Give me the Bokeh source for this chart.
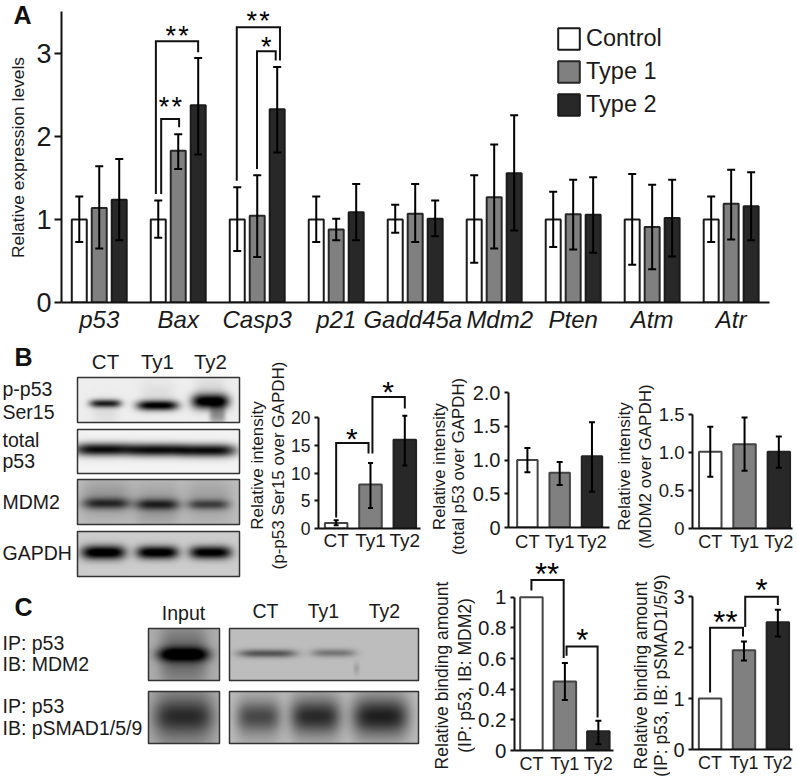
import math
import numpy as np
from bokeh.plotting import figure
from bokeh.models import (ColumnDataSource, Whisker, TeeHead, Legend, LegendItem,
                          FixedTicker, Range1d, LinearColorMapper)
from bokeh.layouts import column, row
from bokeh.core.properties import value
from bokeh.embed import file_html
from bokeh.resources import INLINE

FONT = "Liberation Sans"
# ---------------------------------------------------------------- data, panel A
genes = ["p53", "Bax", "Casp3", "p21", "Gadd45a", "Mdm2", "Pten", "Atm", "Atr"]
gene_label_pos = [0, 1, 2, 3, 3.97, 5.07, 6, 7, 8]
series_names = ["Control", "Type 1", "Type 2"]
control_val = [1.0, 1.0, 1.0, 1.0, 1.0, 1.0, 1.0, 1.0, 1.0]
control_up = [1.28, 1.23, 1.39, 1.28, 1.18, 1.535, 1.335, 1.55, 1.28]
control_low = [0.73, 0.78, 0.62, 0.73, 0.84, 0.48, 0.67, 0.455, 0.73]
type1_val = [1.14, 1.83, 1.045, 0.88, 1.07, 1.27, 1.065, 0.91, 1.19]
type1_up = [1.645, 2.03, 1.535, 1.01, 1.43, 1.905, 1.48, 1.42, 1.60]
type1_low = [0.65, 1.61, 0.55, 0.75, 0.73, 0.65, 0.64, 0.40, 0.76]
type2_val = [1.24, 2.38, 2.33, 1.09, 1.01, 1.56, 1.06, 1.02, 1.16]
type2_up = [1.73, 2.95, 2.84, 1.43, 1.23, 2.26, 1.51, 1.48, 1.57]
type2_low = [0.75, 1.785, 1.81, 0.75, 0.80, 0.87, 0.60, 0.555, 0.75]
a_yticks = [0, 1, 2, 3]
# significance brackets: left x, right x, top, left end, right end
a_br_left = [0.717, 0.784, 1.741, 1.997]
a_br_right = [1.252, 1.011, 2.288, 2.234]
a_br_top = [3.15, 2.215, 3.32, 3.03]
a_br_lend = [1.31, 1.31, 1.47, 1.61]
a_br_rend = [3.02, 2.115, 2.92, 2.92]
a_star_x = [0.986, 0.90, 2.01, 2.115]
a_star_y = [3.245, 2.40, 3.43, 3.12]
a_star_text = ["*\u200a*", "*\u200a*", "*\u200a*", "*"]
# ---------------------------------------------------------------- data, panels B and C
short_names = ["CT", "Ty1", "Ty2"]
ser15_val = [1.0, 7.93, 16.0]
ser15_up = [1.5, 11.8, 20.3]
ser15_low = [0.6, 3.7, 11.35]
total_val = [1.0, 0.81, 1.055]
total_up = [1.18, 0.97, 1.56]
total_low = [0.82, 0.63, 0.53]
mdm2_val = [1.01, 1.11, 1.01]
mdm2_up = [1.34, 1.46, 1.21]
mdm2_low = [0.68, 0.76, 0.80]
bind_mdm2_val = [1.0, 0.451, 0.126]
bind_mdm2_up = [1.0, 0.571, 0.194]
bind_mdm2_low = [1.0, 0.329, 0.041]
bind_smad_val = [1.0, 1.95, 2.5]
bind_smad_up = [1.0, 2.12, 2.745]
bind_smad_low = [1.0, 1.75, 2.22]

ser15_br = dict(left=[0.0, 1.057], right=[0.943, 2.0], top=[15.4, 23.7], lend=[2.0, 13.5], rend=[13.5, 21.6])
ser15_st = dict(x=[0.457, 1.514], y=[16.76, 25.2], text=["*", "*"])
bind_mdm2_br = dict(left=[0.0, 1.05], right=[0.964, 1.977], top=[1.113, 0.678], lend=[1.044, 0.619], rend=[0.604, 0.216])
bind_mdm2_st = dict(x=[0.467, 1.518], y=[1.174, 0.743], text=["**", "*"])
bind_smad_br = dict(left=[0.0, 1.037], right=[0.971, 2.0], top=[2.39, 3.0], lend=[1.12, 2.405], rend=[2.22, 2.84])
bind_smad_st = dict(x=[0.452, 1.519], y=[2.555, 3.18], text=["**", "*"])

WHITE, GREY, DARK = "#ffffff", "#808080", "#282828"
FILLS = [WHITE, GREY, DARK]
INK = "#111111"


def style_axes(p, xfs, yfs, yticks, ytop, overrides=None, ystand=4, xstand=3, tick=4):
    p.grid.visible = False
    p.outline_line_color = None
    ax = p.yaxis[0]
    ax.ticker = FixedTicker(ticks=yticks)
    ax.bounds = (0, ytop)
    ax.axis_line_width = 2
    ax.axis_line_color = INK
    ax.major_tick_line_width = 2
    ax.major_tick_line_color = INK
    ax.major_tick_out = tick
    ax.major_tick_in = 0
    ax.minor_tick_out = 0
    ax.minor_tick_in = 0
    ax.minor_tick_line_color = None
    ax.major_label_text_font = FONT
    ax.major_label_text_font_size = yfs
    ax.major_label_text_color = "#1a1a1a"
    ax.major_label_standoff = ystand
    if overrides:
        ax.major_label_overrides = overrides
    xa = p.xaxis[0]
    xa.axis_line_width = 2
    xa.axis_line_color = INK
    xa.major_tick_line_color = None
    xa.minor_tick_line_color = None
    xa.major_tick_out = 0
    xa.major_tick_in = 0
    xa.minor_tick_out = 0
    xa.minor_tick_in = 0
    xa.major_label_text_font = FONT
    xa.major_label_text_font_size = xfs
    xa.major_label_text_color = "#1a1a1a"
    xa.major_label_standoff = xstand


def brackets(p, left, right, top, lend, rend):
    xs = [[l, l, r, r] for l, r in zip(left, right)]
    ys = [[a, t, t, b] for a, t, b in zip(lend, top, rend)]
    p.multi_line(xs, ys, line_color=INK, line_width=2, line_join="miter")


def stars(p, x, y, text, fs):
    px = float(fs[:-2])
    p.text(x, y, text=text, text_font=value(FONT), text_font_size=fs, text_color="#000000",
           text_align="center", text_baseline="alphabetic", y_offset=0.11 * px)


def small_chart(w, h, fig_x, fig_y, frame, centers, bar_w, ppu, vals, ups, lows, yticks, overrides,
                xfs, yfs, head=6, br=None, st=None, star_fs="30px", tick=4, xstand=3):
    fl, fr, ft, fb = frame
    step = (centers[2] - centers[0]) / 2
    p = figure(width=w, height=h, output_backend="svg", toolbar_location=None, frame_align=False,
               x_range=Range1d((fl - centers[0]) / step, (fr - centers[0]) / step),
               y_range=Range1d(0, (fb - ft) / ppu),
               min_border_left=int(round(fl - fig_x)), min_border_right=int(round(fig_x + w - fr)),
               min_border_top=int(round(ft - fig_y)), min_border_bottom=int(round(fig_y + h - fb)))
    xs = [0, 1, 2]
    p.vbar(x=xs, top=vals, bottom=0, width=(bar_w - 2) / step, fill_color=FILLS,
           line_color=["#444444", "#444444", "#222222"], line_width=2)
    keep = [i for i in xs if ups[i] != lows[i]]
    src = ColumnDataSource(dict(x=[xs[i] for i in keep], up=[ups[i] for i in keep], low=[lows[i] for i in keep]))
    p.add_layout(Whisker(source=src, base="x", upper="up", lower="low", level="annotation",
                         line_color="#000000", line_width=2,
                         upper_head=TeeHead(size=head, line_width=2, line_color="#000000"),
                         lower_head=TeeHead(size=head, line_width=2, line_color="#000000")))
    style_axes(p, xfs, yfs, yticks, yticks[-1], overrides, tick=tick, xstand=xstand)
    p.xaxis[0].ticker = FixedTicker(ticks=xs)
    p.xaxis[0].major_label_overrides = {i: s for i, s in enumerate(short_names)}
    if br:
        brackets(p, **br)
    if st:
        stars(p, st["x"], st["y"], st["text"], star_fs)
    return p


def texts(p, xs, ys, labels, fs, align="left", style="normal", angle=0.0, color="#1a1a1a"):
    p.text(xs, [-v for v in ys], text=labels, text_font=value(FONT), text_font_size=fs, text_color=color,
           text_align=align, text_baseline="middle", text_font_style=style, angle=angle)


def vtexts(p, xs, y, labels, fs="17px"):
    texts(p, xs, [y] * len(xs), labels, fs, "center", angle=math.pi / 2)


def blank(w, h, x0, y0):
    p = figure(width=w, height=h, output_backend="svg", toolbar_location=None, frame_align=False,
               x_range=Range1d(x0, x0 + w), y_range=Range1d(-(y0 + h), -y0),
               min_border_left=0, min_border_right=0, min_border_top=0, min_border_bottom=0)
    p.axis.visible = False
    p.grid.visible = False
    p.outline_line_color = None
    return p


# ---------------------------------------------------------------- panel A
FA = (60, 769, 11, 302)
AW, AH = 756, 340
A_UNIT = 79.1
A_PPU = 82.9
A_ORIGIN = 97.8
a_strip = blank(33, AH, 0, 0)
texts(a_strip, [13], [14], ["A"], "25px", style="bold", color="#111111")
vtexts(a_strip, [17], 157, ["Relative expression levels"], "17.4px")
a = figure(width=AW, height=AH, output_backend="svg", toolbar_location=None, frame_align=False,
           x_range=Range1d((FA[0] - A_ORIGIN) / A_UNIT, (FA[1] - A_ORIGIN) / A_UNIT),
           y_range=Range1d(0, (FA[3] - FA[2]) / A_PPU),
           min_border_left=27, min_border_right=20, min_border_top=11, min_border_bottom=38)
idx = list(range(len(genes)))
rends = []
for k, (vals, ups, lows, fc, lc) in enumerate([
        (control_val, control_up, control_low, WHITE, "#1a1a1a"),
        (type1_val, type1_up, type1_low, GREY, "#262626"),
        (type2_val, type2_up, type2_low, DARK, "#1a1a1a")]):
    off = (k - 1) * 20 / A_UNIT
    xs = [i + off for i in idx]
    r = a.vbar(x=xs, top=vals, bottom=0, width=15 / A_UNIT, fill_color=fc, line_color=lc, line_width=2)
    rends.append(r)
    src = ColumnDataSource(dict(x=xs, up=ups, low=lows))
    a.add_layout(Whisker(source=src, base="x", upper="up", lower="low", level="annotation",
                         line_color="#000000", line_width=2,
                         upper_head=TeeHead(size=8, line_width=2, line_color="#000000"),
                         lower_head=TeeHead(size=8, line_width=2, line_color="#000000")))
style_axes(a, "24px", "27px", a_yticks, a_yticks[-1], ystand=3, tick=7)
a.yaxis[0].bounds = (0, (FA[3] - FA[2]) / A_PPU)
a.xaxis[0].ticker = FixedTicker(ticks=gene_label_pos)
a.xaxis[0].major_label_overrides = {p_: g for p_, g in zip(gene_label_pos, genes)}
a.xaxis[0].major_label_text_font_style = "italic"
a.xaxis[0].major_label_standoff = 3
brackets(a, a_br_left, a_br_right, a_br_top, a_br_lend, a_br_rend)
stars(a, a_star_x, a_star_y, a_star_text, "27px")
leg = Legend(items=[LegendItem(label=n, renderers=[r]) for n, r in zip(series_names, rends)],
             location=(494, 184), orientation="vertical", background_fill_alpha=0, border_line_color=None,
             glyph_width=27, glyph_height=27, label_width=60, label_height=27, spacing=6, padding=0, margin=0,
             label_standoff=4, label_text_font=FONT, label_text_font_size="23.5px", label_text_color="#1a1a1a")
a.add_layout(leg, "center")

GRAY_MAP = LinearColorMapper(palette="Greys256", low=0, high=1)


# ---------------------------------------------------------------- blots
def blot(p, x0, x1, y0, y1, bg, lanes):
    xx = np.arange(x0, x1) + 0.5
    yy = np.arange(y1, y0, -1) - 0.5
    X, Y = np.meshgrid(xx, yy)
    Z = np.full(X.shape, float(bg))
    for xc, w, yc, sy, amp in lanes:
        Z = Z - amp * np.exp(-((X - xc) / (w / 2)) ** 4) * np.exp(-((Y - yc) / sy) ** 2)
    Z = np.clip(Z, 0, 1)
    p.image(image=[Z], x=x0, y=-y1, dw=x1 - x0, dh=y1 - y0, color_mapper=GRAY_MAP)
    p.quad(left=x0, right=x1, top=-y0, bottom=-y1, fill_color=None, line_color="#333333", line_width=1.5)


pser15 = [(105, 32, 403, 4, 0.8), (157, 42, 405, 5, 0.95), (210, 38, 401, 7.5, 1.0), (217, 16, 415, 9, 0.35),
          (105, 26, 412, 12, 0.06), (157, 34, 395, 14, 0.06), (210, 30, 390, 14, 0.08)]
ptotal = [(103, 60, 449, 6.5, 0.92), (157, 56, 449.5, 6.5, 0.92), (208, 56, 450, 6.5, 0.92)]
pmdm2 = [(106, 48, 503, 5.5, 0.46), (157, 44, 504, 5.5, 0.48), (208, 42, 504, 5, 0.40),
         (106, 50, 498, 18, 0.16), (157, 46, 505, 20, 0.16), (208, 46, 500, 20, 0.12)]
pgapdh = [(103, 44, 552, 7, 0.92), (157, 42, 552, 6.5, 0.9), (210, 42, 552, 6.5, 0.86)]

b_blots = blank(288, 240, 0, 340)
blot(b_blots, 77, 239, 377, 422, 0.93, pser15)
blot(b_blots, 77, 239, 429, 473, 0.95, ptotal)
blot(b_blots, 77, 239, 479, 524, 0.74, pmdm2)
blot(b_blots, 77, 239, 531, 576, 0.80, pgapdh)
texts(b_blots, [14], [356], ["B"], "25px", style="bold", color="#111111")
texts(b_blots, [105, 157, 210], [361, 361, 361], short_names, "20.5px", "center")
texts(b_blots, [2, 2, 2, 2, 2, 2], [388, 411, 439, 460, 501, 552],
      ["p-p53", "Ser15", "total", "p53", "MDM2", "GAPDH"], "19.5px")
vtexts(b_blots, [257, 278], 465, ["Relative intensity", "(p-p53 Ser15 over GAPDH)"])

ser15_fig = small_chart(137, 240, 288, 340, (316, 420, 375, 528), [334, 369, 404], 25, 5.55,
                        ser15_val, ser15_up, ser15_low, [0, 5, 10, 15, 20], None, "19px", "17.5px", head=5,
                        br=ser15_br, st=ser15_st, xstand=1)

c_blots = blank(425, 198, 0, 580)
inp_top = [(183, 54, 654, 7, 0.6), (183, 48, 655, 30, 0.3)]
ip_top = [(267, 58, 653, 4, 0.42), (333, 44, 652.5, 4, 0.28), (356, 6, 668, 6, 0.1)]
inp_low = [(183, 62, 716, 16, 0.32), (183, 58, 716, 42, 0.2)]
ip_low = [(258, 44, 716, 15, 0.34), (315, 50, 716, 16, 0.42), (380, 56, 716, 17, 0.44),
          (258, 46, 720, 30, 0.12), (315, 52, 716, 32, 0.16), (380, 58, 716, 32, 0.18)]
blot(c_blots, 148, 219, 628, 680, 0.68, inp_top)
blot(c_blots, 229, 418, 628, 680, 0.74, ip_top)
blot(c_blots, 148, 219, 691, 743, 0.68, inp_low)
blot(c_blots, 229, 418, 691, 743, 0.74, ip_low)
texts(c_blots, [14], [606], ["C"], "25px", style="bold", color="#111111")
texts(c_blots, [183, 265, 323, 384], [612, 610, 610, 610], ["Input"] + short_names, "19.5px", "center")
texts(c_blots, [2, 2, 2, 2], [642, 663, 705, 727], ["IP: p53", "IB: MDM2", "IP: p53", "IB: pSMAD1/5/9"], "19.5px")

# label strips and charts of the right-hand part
strip1 = blank(44, 214, 425, 340)
vtexts(strip1, [439, 458], 466, ["Relative intensity", "(total p53 over GAPDH)"], "16.8px")
total_fig = small_chart(146, 214, 469, 340, (505.3, 609, 375, 528), [524.7, 558, 591], 23, 67.9,
                        total_val, total_up, total_low, [0, 0.5, 1, 1.5, 2],
                        {0: "0", 0.5: "0.5", 1: "1.0", 1.5: "1.5", 2: "2.0"}, "18.5px", "20px")
strip2 = blank(50, 224, 425, 554)
vtexts(strip2, [441.5, 464], 675, ["Relative binding amount", "(IP: p53, IB: MDM2)"], "17.5px")
bind1 = small_chart(140, 224, 475, 554, (511.7, 613, 561, 749.7), [529, 563.3, 597.5], 25, 153,
                    bind_mdm2_val, bind_mdm2_up, bind_mdm2_low, [0, 0.2, 0.4, 0.6, 0.8, 1],
                    {0: "0", 0.2: "0.2", 0.4: "0.4", 0.6: "0.6", 0.8: "0.8", 1: "1"}, "18px", "20.5px",
                    br=bind_mdm2_br, st=bind_mdm2_st, star_fs="31px")
strip3 = blank(40, 214, 615, 340)
vtexts(strip3, [624, 645], 466, ["Relative intensity", "(MDM2 over GAPDH)"])
mdm2_fig = small_chart(141, 214, 655, 340, (689.3, 791.7, 375, 528), [707.5, 742.5, 777.7], 25, 76,
                       mdm2_val, mdm2_up, mdm2_low, [0, 0.5, 1, 1.5],
                       {0: "0", 0.5: "0.5", 1: "1.0", 1.5: "1.5"}, "18px", "18.5px")
strip4 = blank(55, 224, 615, 554)
vtexts(strip4, [640, 660], 675, ["Relative binding amount", "(IP: p53, IB: pSMAD1/5/9)"], "17.5px")
bind2 = small_chart(126, 224, 670, 554, (689.3, 791.7, 561, 749.3), [707.3, 742, 776.7], 25, 51,
                    bind_smad_val, bind_smad_up, bind_smad_low, [0, 1, 2, 3], None, "18px", "20px",
                    br=bind_smad_br, st=bind_smad_st, star_fs="31px")

left_col = column(row(b_blots, ser15_fig, spacing=0), c_blots, spacing=0)
mid_col = column(row(strip1, total_fig, spacing=0), row(strip2, bind1, spacing=0), spacing=0)
end_col = column(row(strip3, mdm2_fig, spacing=0), row(strip4, bind2, spacing=0), spacing=0)
page = column(row(a_strip, a, spacing=0), row(left_col, mid_col, end_col, spacing=0), spacing=0)
open("out.html", "w").write(file_html(page, INLINE))
